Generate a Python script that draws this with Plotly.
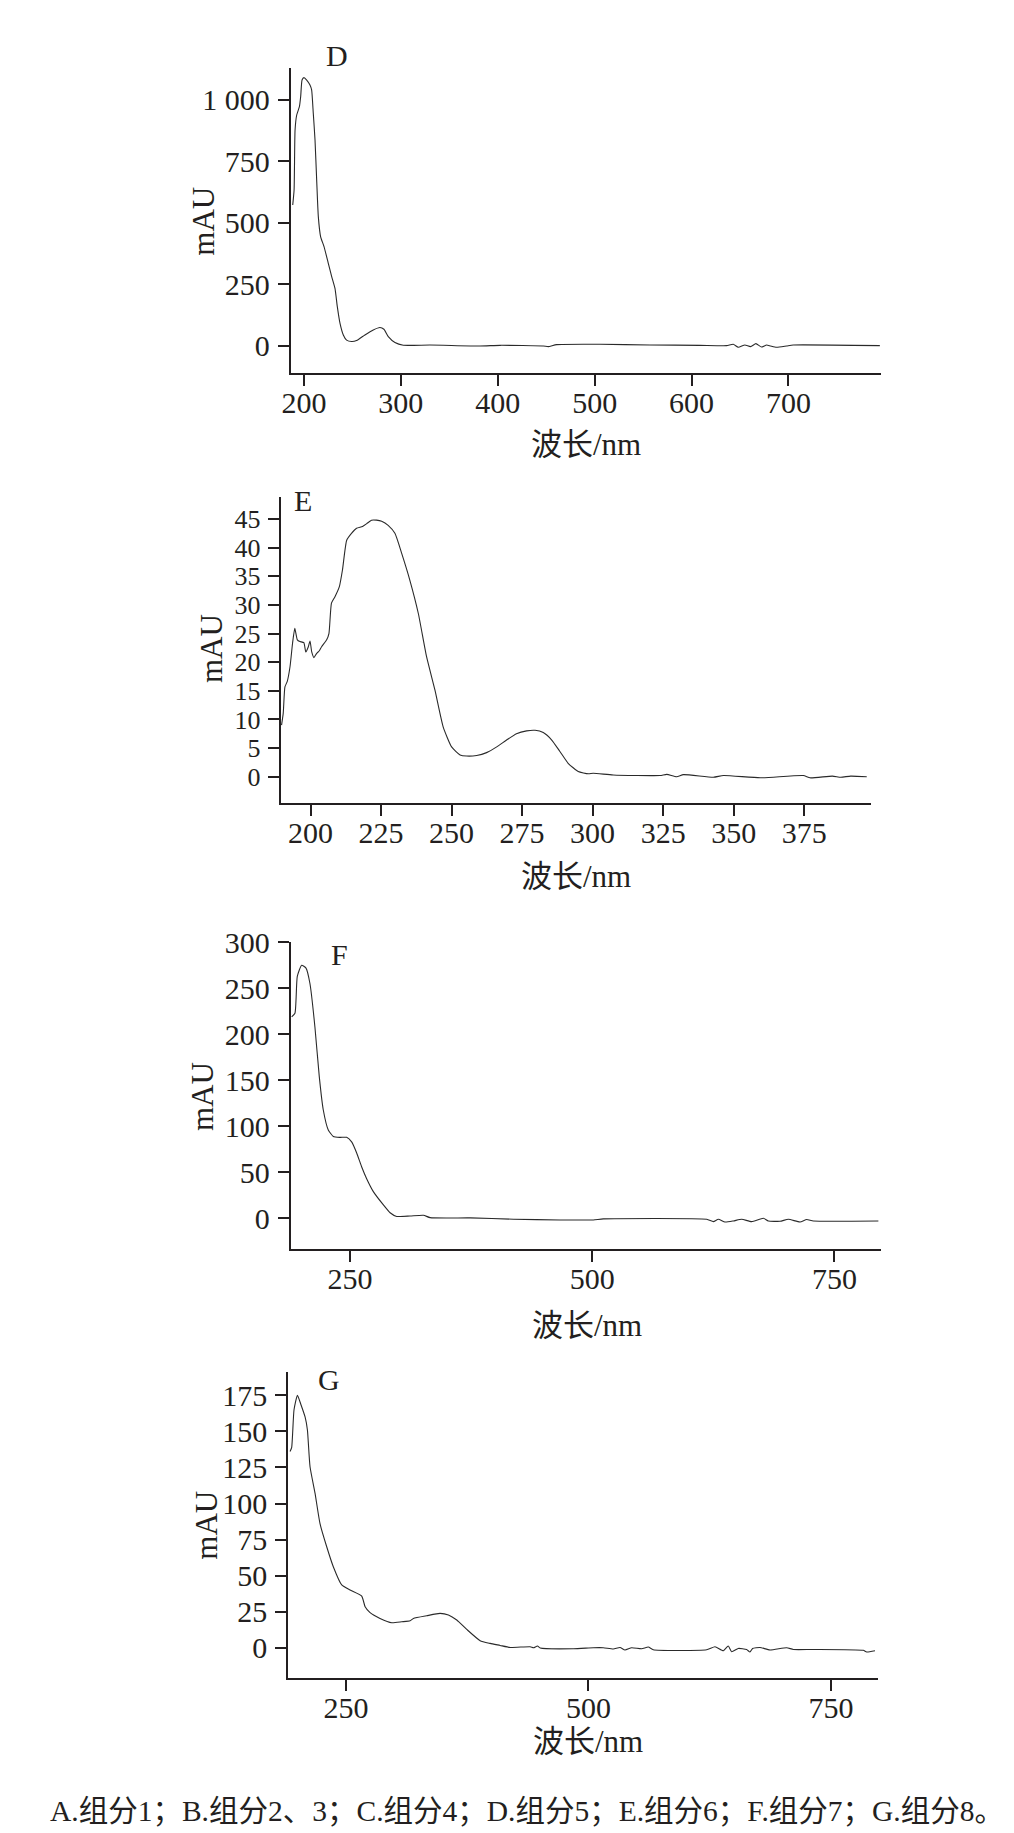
import plotly.graph_objects as go

# ---------------- Data ----------------
# Panel D
d_wl = [188.4, 189.8, 190.8, 192.5, 195.3, 196.6, 198.0, 200.0, 202.8, 206.2, 207.9, 209.6, 211.4, 213.1,
        214.8, 217.2, 220.7, 225.1, 228.6, 232.0, 234.4, 237.2, 240.6, 244.0, 249.2, 254.3, 262.9, 271.5,
        278.4, 282.5, 287.0, 293.9, 302.5, 330.0, 381.6, 402.3, 447.0, 452.1, 460.8, 505.5, 557.0, 608.6,
        636.1, 643.0, 648.2, 655.0, 660.9, 666.4, 672.2, 677.4, 681.5, 687.7, 698.0, 704.9, 794.3]
d_mau = [573, 634, 878, 939, 973, 1014, 1081, 1091, 1081, 1061, 1041, 946, 837, 675,
         526, 444, 404, 336, 282, 234, 160, 92, 45, 24, 18, 22, 45, 65,
         75, 68, 38, 14, 3, 4, 0, 2.7, 0, -2.7, 5.4, 6.8, 4, 2.7,
         1.4, 6.8, -5.4, 4, -2.7, 9.5, -4, 4, 0, -5.4, 0, 4, 1.4]

# Panel E
e_wl = [189.7, 190.3, 190.9, 191.7, 192.7, 193.6, 194.4, 195.3, 196.2, 197.6, 198.3, 199.2, 199.8, 200.4,
        201.2, 202.1, 203.1, 203.9, 205.7, 206.5, 207.4, 208.6, 210.2, 211.3, 212.8, 214.5, 216.3, 218.4,
        219.9, 221.6, 223.4, 225.2, 227.5, 229.9, 232.3, 235.2, 238.2, 241.1, 244.1, 247.0, 250.0, 253.0,
        255.3, 258.9, 262.4, 266.0, 269.5, 273.0, 276.6, 279.6, 282.5, 285.5, 288.4, 291.4, 294.9, 298.5,
        300.2, 307.3, 323.9, 326.3, 329.8, 332.2, 342.8, 346.4, 359.4, 374.7, 377.1, 385.0, 388.0, 391.5, 397.2]
e_mau = [9.0, 11.1, 15.7, 16.6, 19.2, 23.3, 25.9, 23.9, 23.6, 23.4, 21.8, 22.7, 23.7, 21.8,
         20.8, 21.5, 22.0, 22.7, 23.9, 25.0, 30.3, 31.4, 33.2, 36.1, 41.3, 42.5, 43.4, 43.7,
         44.2, 44.8, 44.8, 44.6, 43.9, 42.5, 39.0, 34.3, 28.5, 21.0, 15.1, 8.7, 5.2, 3.8,
         3.6, 3.7, 4.2, 5.2, 6.4, 7.5, 8.0, 8.1, 7.7, 6.4, 4.4, 2.3, 0.9, 0.5,
         0.6, 0.3, 0.2, 0.4, 0.0, 0.35, -0.1, 0.2, -0.2, 0.2, -0.2, 0.1, -0.1, 0.1, 0.0]

# Panel F
f_wl = [189.8, 193.2, 195.6, 200.1, 204.6, 208.7, 213.8, 218.3, 222.4, 227.6, 232.8, 239.7, 246.6, 251.7,
        256.9, 262.0, 267.2, 274.1, 284.5, 291.4, 298.2, 312.0, 325.8, 332.7, 374.0, 418.7, 466.8, 501.2,
        511.5, 618.2, 625.1, 630.2, 637.1, 645.7, 654.3, 664.6, 676.7, 681.8, 693.9, 702.5, 714.5, 721.4,
        728.3, 795.4]
f_mau = [219, 223, 263, 275, 272, 255, 208, 154, 118, 96, 89, 88, 88, 83,
         71, 56, 43, 29, 14.5, 6, 2, 2.5, 3.3, 0.7, 0.4, -1, -1.8, -1.8,
         -0.7, -1.1, -3.6, -1.1, -4, -2.9, -1.1, -3.6, 0, -2.9, -3.3, -1.1, -4, -1.4,
         -2.9, -2.9]

# Panel G
g_wl = [192.3, 194.0, 196.4, 199.9, 203.3, 207.8, 210.2, 212.9, 218.1, 223.2, 230.1, 237.0, 245.6, 254.2,
        266.2, 269.7, 274.8, 285.1, 297.2, 307.5, 316.1, 319.5, 333.3, 347.0, 355.6, 364.2, 374.5, 388.3,
        398.6, 408.9, 419.2, 439.9, 443.3, 447.4, 450.2, 484.5, 505.0, 515.3, 525.6, 532.5, 537.6, 544.5,
        554.8, 561.7, 566.8, 621.8, 630.4, 639.0, 644.1, 647.6, 654.4, 663.0, 666.5, 669.2, 676.8, 687.1,
        704.3, 711.2, 731.8, 783.3, 786.8, 795.4]
g_mau = [136, 139, 165, 175, 169, 160, 151, 125.5, 107, 86, 70, 56, 43.5, 40,
         35.8, 28.4, 24.3, 20.3, 17.3, 18.0, 18.7, 20.3, 22.2, 23.8, 22.7, 19.2, 12.7, 4.9,
         3.0, 1.6, 0.2, 0.7, 0.0, 1.2, -0.2, -0.7, 0.0, 0.0, -0.9, 0.2, -1.6, 0.0,
         -0.7, 0.5, -1.4, -1.4, 0.7, -2.1, 1.2, -2.8, -0.5, -1.2, -3.0, -0.5, 0.2, -1.6,
         0.0, -1.2, -1.2, -1.8, -3.0, -2.1]

panel_labels = ["D", "E", "F", "G"]
d_xticks = [200, 300, 400, 500, 600, 700]
d_yticks = [0, 250, 500, 750, 1000]
d_ytext = ["0", "250", "500", "750", "1 000"]
e_xticks = [200, 225, 250, 275, 300, 325, 350, 375]
e_yticks = [0, 5, 10, 15, 20, 25, 30, 35, 40, 45]
f_xticks = [250, 500, 750]
f_yticks = [0, 50, 100, 150, 200, 250, 300]
g_xticks = [250, 500, 750]
g_yticks = [0, 25, 50, 75, 100, 125, 150, 175]
x_title = "波长/nm"
y_title = "mAU"
caption = "A.组分1；B.组分2、3；C.组分4；D.组分5；E.组分6；F.组分7；G.组分8。"

# ---------------- Layout helpers ----------------
W, H = 1014, 1833
FONT = "Liberation Serif, 'Times New Roman', 'Noto Sans CJK SC', serif"
TXT = "#231f20"

def px_x(p):
    return p / W

def px_y(p):
    return 1 - p / H

panels = [
    dict(wl=d_wl, v=d_mau, xl=290.7, xr=881, yt=68, yb=373.3, xr_=[186.3, 795.5], yr=[-111, 1130],
         xt=d_xticks, yt_=d_yticks, ytt=d_ytext, yfs=30, lab=(336.7, 55), ytp=(204, 221.7), xtp=(586, 445)),
    dict(wl=e_wl, v=e_mau, xl=280.7, xr=870.7, yt=496.7, yb=803.3, xr_=[189.4, 398.6], yr=[-4.65, 48.9],
         xt=e_xticks, yt_=e_yticks, ytt=None, yfs=26, lab=(303.3, 500), ytp=(211, 649), xtp=(576, 876.7)),
    dict(wl=f_wl, v=f_mau, xl=290.7, xr=880.7, yt=941.7, yb=1249, xr_=[188.8, 797.8], yr=[-33.4, 300.7],
         xt=f_xticks, yt_=f_yticks, ytt=None, yfs=30, lab=(339, 954), ytp=(202.3, 1096.7), xtp=(586.7, 1325)),
    dict(wl=g_wl, v=g_mau, xl=288.3, xr=878.3, yt=1371.7, yb=1678.3, xr_=[190.5, 798.8], yr=[-21.2, 191.4],
         xt=g_xticks, yt_=g_yticks, ytt=None, yfs=30, lab=(329, 1379), ytp=(205.7, 1525), xtp=(587.5, 1741.7)),
]

fig = go.Figure()
layout = dict(
    template="none",
    width=W, height=H, margin=dict(l=0, r=0, t=0, b=0, pad=0, autoexpand=False),
    paper_bgcolor="white", plot_bgcolor="white", showlegend=False,
    font=dict(family=FONT, color=TXT, size=30),
)
annotations = []

for i, p in enumerate(panels):
    n = "" if i == 0 else str(i + 1)
    fig.add_trace(go.Scatter(
        x=p["wl"], y=p["v"], mode="lines",
        line=dict(color="#2a2a2a", width=1.1, shape="spline", smoothing=0.5),
        xaxis="x" + n, yaxis="y" + n, hoverinfo="skip",
    ))
    common = dict(showgrid=False, zeroline=False, showline=True, linecolor=TXT, linewidth=2,
                  ticks="outside", ticklen=11, tickwidth=2, tickcolor=TXT, automargin=False)
    layout["xaxis" + n] = dict(common, domain=[px_x(p["xl"]), px_x(p["xr"])], range=p["xr_"],
                               tickmode="array", tickvals=p["xt"], anchor="y" + n,
                               ticklabelstandoff=-9,
                               tickfont=dict(family=FONT, size=30, color=TXT))
    ya = dict(common, domain=[px_y(p["yb"]), px_y(p["yt"])], range=p["yr"],
              tickmode="array", tickvals=p["yt_"], anchor="x" + n, ticklabelstandoff=2,
              tickfont=dict(family=FONT, size=p["yfs"], color=TXT))
    if p["ytt"] is not None:
        ya["ticktext"] = p["ytt"]
    layout["yaxis" + n] = ya

    annotations.append(dict(text=panel_labels[i], x=px_x(p["lab"][0]), y=px_y(p["lab"][1]),
                            xref="paper", yref="paper", showarrow=False, xanchor="center", yanchor="middle",
                            font=dict(family=FONT, size=30, color=TXT)))
    annotations.append(dict(text=y_title, x=px_x(p["ytp"][0]), y=px_y(p["ytp"][1]), textangle=-90,
                            xref="paper", yref="paper", showarrow=False, xanchor="center", yanchor="middle",
                            font=dict(family=FONT, size=31, color=TXT)))
    annotations.append(dict(text=x_title, x=px_x(p["xtp"][0]), y=px_y(p["xtp"][1]),
                            xref="paper", yref="paper", showarrow=False, xanchor="center", yanchor="middle",
                            font=dict(family=FONT, size=31, color=TXT)))

annotations.append(dict(text=caption, x=px_x(527), y=px_y(1811), xref="paper", yref="paper",
                        showarrow=False, xanchor="center", yanchor="middle",
                        font=dict(family=FONT, size=29.5, color=TXT)))
layout["annotations"] = annotations
fig.update_layout(**layout)
fig.write_html("out.html")
